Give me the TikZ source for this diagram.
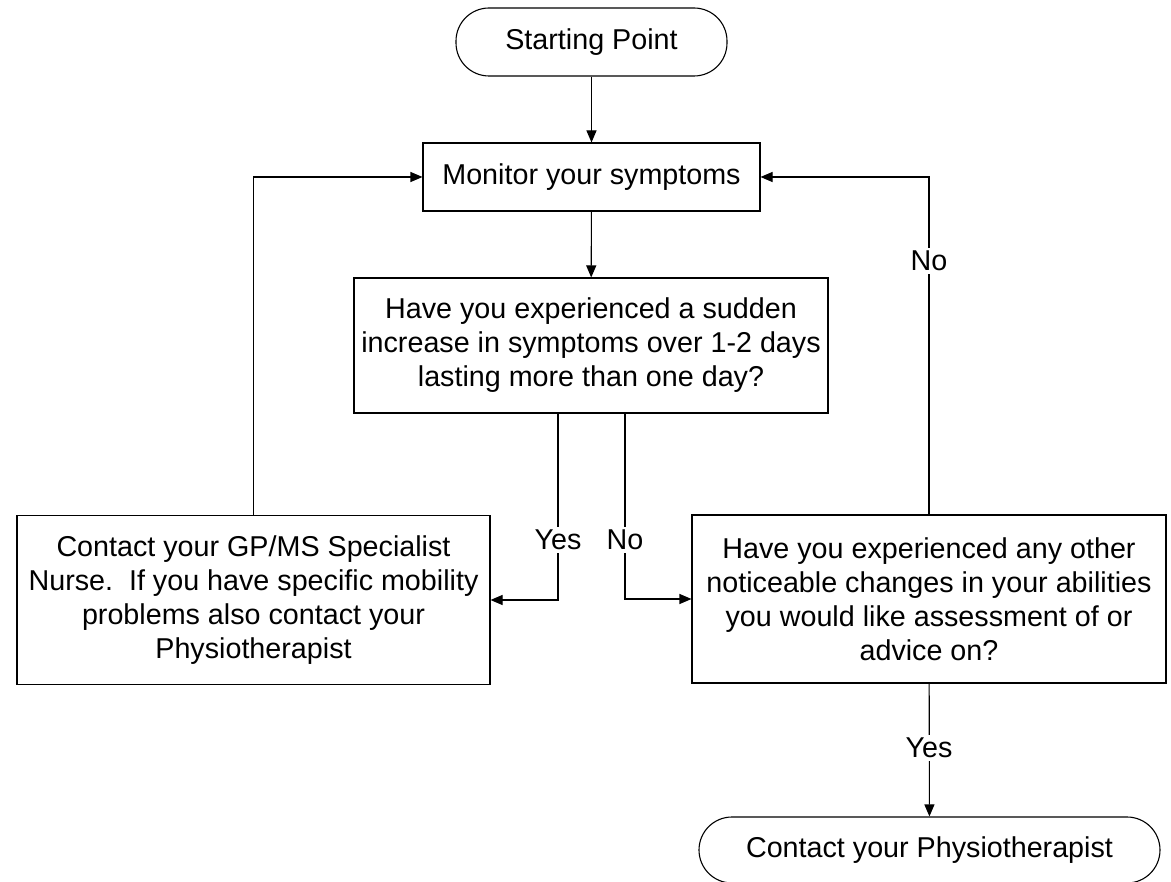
\documentclass[tikz,border=0pt]{standalone}
\usepackage{fontspec}
\setmainfont{Liberation Sans}
\usetikzlibrary{arrows.meta}
\begin{document}
\begin{tikzpicture}[x=1pt,y=-1pt,
  txt/.style={font=\fontsize{28.7}{34}\selectfont},
  box/.style={txt, draw=black, line width=1.1pt, align=center, inner sep=0pt},
  pill/.style={box, rounded corners=33pt},
  conn/.style={line width=1.1pt, -{Triangle[length=12pt,width=10pt]}},
  lbl/.style={txt, fill=white, inner sep=3pt}]
\useasboundingbox[fill=white] (0,0) rectangle (1171,882);
\node[pill, minimum width=271pt, minimum height=68pt] (start) at (591.5,42) {Starting Point};
\node[box, minimum width=337pt, minimum height=68pt] (mon) at (591.5,177) {Monitor your symptoms};
\node[box, minimum width=474pt, minimum height=135pt] (q) at (591,345.5) {Have you experienced a sudden\\increase in symptoms over 1-2 days\\lasting more than one day?};
\node[box, minimum width=473pt, minimum height=169pt] (left) at (253.5,600) {Contact your GP/MS Specialist\\Nurse.\ \ If you have specific mobility\\problems also contact your\\Physiotherapist};
\node[box, minimum width=474pt, minimum height=168pt] (right) at (929,599) {Have you experienced any other\\noticeable changes in your abilities\\you would like assessment of or\\advice on?};
\node[pill, minimum width=461pt, minimum height=66pt] (end) at (929.5,850) {Contact your Physiotherapist};
\coordinate (qy) at ([xshift=-33pt]q.south);
\coordinate (qn) at ([xshift=34pt]q.south);
\draw[conn] (start) -- (mon);
\draw[conn] (mon) -- (q);
\draw[conn] (qy) |- (left.east);
\draw[conn] (qn) |- (right.west);
\draw[conn] (left.north) |- (mon.west);
\draw[conn] (right.north) |- (mon.east);
\draw[conn] (right) -- (end);
\node[lbl] (lyes) at (558,540) {Yes};
\node[lbl] (lno) at (625,540) {No};
\node[lbl] (lno2) at (929,261) {No};
\node[lbl] (lyes2) at (929,748) {Yes};
\end{tikzpicture}
\end{document}
